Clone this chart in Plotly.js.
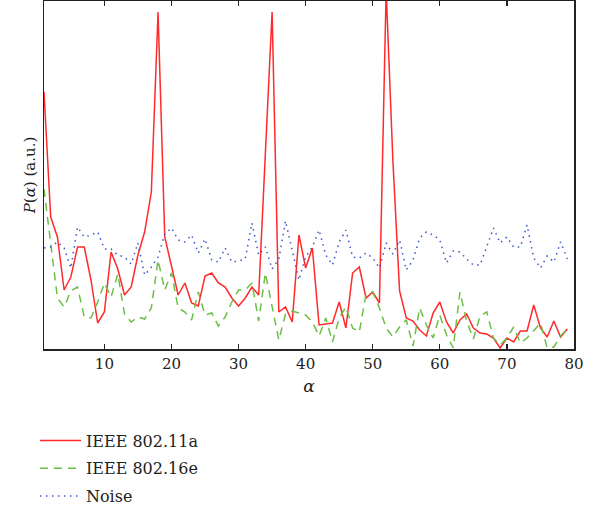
<!DOCTYPE html>
<html>
<head>
<meta charset="utf-8">
<script src="https://cdn.plot.ly/plotly-3.0.1.min.js"></script>
<style>html,body{margin:0;padding:0;background:#fff;}#chart{width:600px;height:514px;}</style>
</head>
<body>
<div id="chart"></div>
<script>
const alpha = Array.from({length: 79}, (_, i) => i + 1);
const ieee80211a = [257,132,112,59,72,102,102,69,26,37,97,80,54,62,94,117,157,337,112,82,
  54,66,46,43,73,76,66,62,51,43,51,62,54,196,337,37,42,27,114,81,
  101,24,25,26,47,21,76,82,51,57,46,359,189,58,31,28,19,13,36,47,
  27,16,29,35,21,16,15,11,1,11,7,18,18,44,21,12,28,12,20];
const ieee80216e = [160,103,51,42,58,62,32,31,47,66,52,75,35,27,32,30,41,89,59,76,
  41,37,29,57,34,36,23,32,47,59,59,66,28,76,44,9,35,38,36,34,
  27,13,31,7,31,42,21,17,55,57,41,21,12,22,29,3,41,24,11,34,
  14,1,57,28,10,33,37,11,4,11,22,6,11,18,26,1,2,13,20];
const noise = [101,102,107,101,81,122,112,114,117,100,100,94,92,85,106,74,82,92,115,121,
  109,107,114,96,110,89,87,101,87,88,90,126,94,102,80,90,128,99,69,92,
  102,119,94,84,107,119,92,91,96,91,81,106,95,109,79,89,111,117,114,109,
  86,98,97,90,84,84,102,121,106,112,102,102,124,91,81,93,87,107,90];
const seriesNames = ['IEEE 802.11a', 'IEEE 802.16e', 'Noise'];
const xTicks = [10,20,30,40,50,60,70,80];

const fam = 'DejaVu Serif';
const font = {family: fam, size: 15, color: '#222'};
const traces = [
  {x: alpha, y: ieee80211a, name: seriesNames[0], legendgroup: 'a', mode: 'lines',
   line: {color: '#ff2a2a', width: 1.5}},
  {x: alpha, y: ieee80216e, name: seriesNames[1], legendgroup: 'b', mode: 'lines',
   line: {color: '#6cbf45', width: 1.5, dash: '8px,6px'}},
  {x: alpha, y: noise, name: seriesNames[2], legendgroup: 'c', mode: 'lines',
   line: {color: '#3a56c8', width: 1.5, dash: '1.5px,4.5px'}}
];
const layout = {
  width: 600, height: 514,
  margin: {l: 44, r: 26, t: 1, b: 165, autoexpand: false},
  paper_bgcolor: '#fff', plot_bgcolor: '#fff',
  font: font,
  showlegend: true,
  legend: {x: -0.017, xanchor: 'left', yref: 'container', y: 0.176, yanchor: 'top', orientation: 'v',
    traceorder: 'grouped', tracegroupgap: 4, itemwidth: 41,
    font: {family: fam, size: 16, color: '#222'}, bgcolor: 'rgba(0,0,0,0)'},
  xaxis: {range: [1, 80], tickvals: xTicks, ticks: 'inside', ticklen: 5, tickwidth: 1.2,
    tickcolor: '#222', showline: true, linecolor: '#222', linewidth: 1.5, mirror: 'ticks',
    showgrid: false, zeroline: false, tickfont: {family: fam, size: 15, color: '#222'},
    title: {text: '<i>α</i>', font: {family: fam, size: 17, color: '#222'}, standoff: 8}},
  yaxis: {range: [0, 348], showticklabels: false, ticks: '', showline: true, linecolor: '#222',
    linewidth: 1.5, mirror: true, showgrid: false, zeroline: false,
    title: {text: '<i>P</i>(<i>α</i>) (a.u.)', font: {family: fam, size: 15, color: '#222'}, standoff: 3}}
};
Plotly.newPlot('chart', traces, layout, {displayModeBar: false, staticPlot: true});
</script>
</body>
</html>
